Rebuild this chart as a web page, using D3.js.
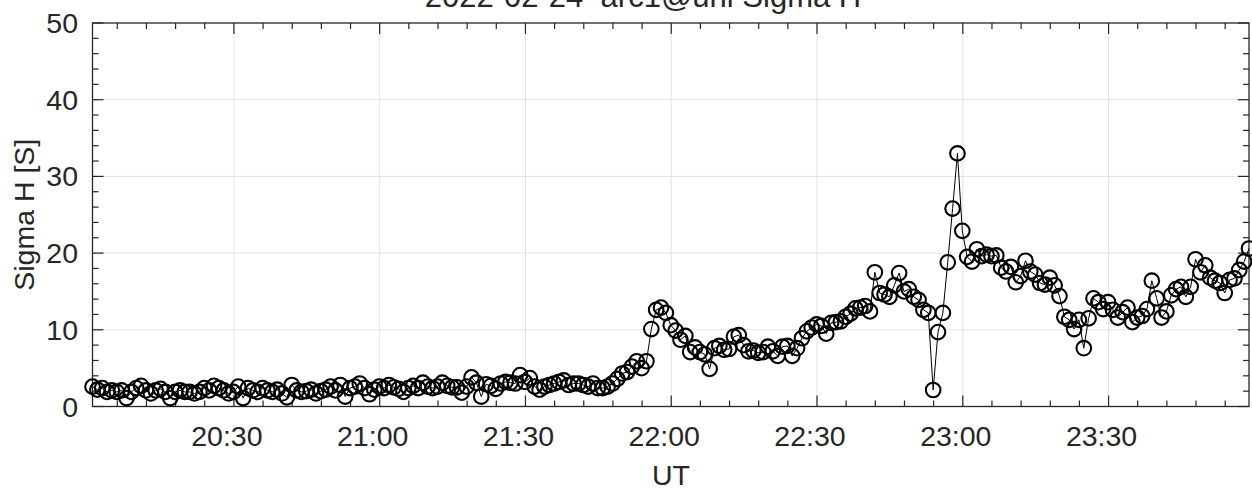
<!DOCTYPE html>
<html>
<head>
<meta charset="utf-8">
<script src="https://cdn.jsdelivr.net/npm/d3@7"></script>
<style>
  html, body { margin: 0; padding: 0; background: #fff; }
  svg { display: block; }
  text { font-family: "Liberation Sans", Arial, Helvetica, sans-serif; fill: #262626; }
</style>
</head>
<body>
<svg id="chart" width="1252" height="491"></svg>
<script>
// ---- data ----
const titleText = "2022-02-24  arc1@uni Sigma H";
const xLabel = "UT";
const yLabel = "Sigma H [S]";
const startTime = "2022-02-24T20:00:54Z";   // first sample, 1-minute cadence
const sampleMinutes = 1;
const sigmaH = [
  2.6, 2.2, 2.4, 1.9, 2.1, 1.9, 2.1, 1.1, 1.9, 2.4,
  2.7, 2.1, 1.7, 2.1, 2.3, 1.9, 1.1, 1.9, 2.1, 1.9,
  1.9, 1.7, 1.9, 2.4, 2.1, 2.7, 2.4, 2.1, 1.7, 1.9,
  2.6, 1.1, 2.4, 2.1, 1.9, 2.4, 2.1, 1.9, 2.2, 1.7,
  1.2, 2.8, 2.1, 1.9, 2.0, 2.2, 1.7, 2.0, 2.2, 2.6,
  2.1, 2.8, 1.3, 2.4, 2.6, 3.0, 2.4, 1.6, 2.2, 2.6,
  2.4, 2.8, 2.5, 2.3, 1.9, 2.4, 2.7, 2.4, 3.1, 2.6,
  2.4, 2.6, 3.1, 2.7, 2.5, 2.5, 1.8, 2.6, 3.8, 3.1,
  1.3, 2.9, 2.7, 2.3, 3.0, 3.2, 3.1, 3.0, 4.1, 3.2,
  3.7, 2.6, 2.2, 2.6, 2.8, 3.0, 3.2, 3.4, 2.8, 3.0,
  3.0, 2.8, 2.6, 3.0, 2.4, 2.4, 2.6, 3.0, 3.6, 4.3,
  4.5, 5.2, 5.9, 5.0, 5.9, 10.1, 12.6, 12.9, 12.2, 10.6,
  9.9, 8.7, 9.2, 7.1, 7.7, 7.1, 6.8, 4.9, 7.6, 7.9,
  7.4, 7.5, 9.1, 9.3, 8.0, 7.2, 7.3, 7.0, 7.1, 7.8,
  7.2, 6.6, 7.8, 7.9, 6.6, 7.6, 8.9, 9.8, 10.3, 10.7,
  10.5, 9.5, 10.9, 11.0, 11.1, 11.7, 12.1, 12.8, 12.9, 13.1,
  12.4, 17.5, 14.8, 14.6, 14.3, 15.8, 17.4, 15.0, 15.3, 14.3,
  13.9, 12.6, 12.2, 2.15, 9.7, 12.2, 18.8, 25.8, 33.0, 22.9,
  19.5, 18.9, 20.5, 19.6, 19.8, 19.6, 19.7, 18.1, 17.6, 18.2,
  16.2, 17.0, 19.0, 17.6, 17.2, 16.1, 15.9, 16.8, 15.8, 14.4,
  11.7, 11.3, 10.1, 11.3, 7.6, 11.5, 14.1, 13.6, 12.7, 13.6,
  12.6, 11.6, 12.3, 12.9, 11.0, 11.6, 11.8, 12.7, 16.4, 14.1,
  11.6, 12.4, 14.5, 15.3, 15.6, 14.3, 15.6, 19.2, 17.5, 18.4,
  16.8, 16.4, 16.1, 14.8, 16.5, 16.7, 17.8, 18.9, 20.6
];
const yTicks = [0, 10, 20, 30, 40, 50];
const xTickLabels = ["20:30", "21:00", "21:30", "22:00", "22:30", "23:00", "23:30"];

// ---- layout ----
const W = 1252, H = 491;
const m = { left: 92.5, right: 1249, top: 23, bottom: 406.5 };
const ink = "#262626";
const tickFont = 28.5;

const t0 = new Date(startTime);
const times = sigmaH.map((_, i) => new Date(t0.getTime() + i * sampleMinutes * 60000));
const data = sigmaH.map((v, i) => ({ t: times[i], v }));

const x = d3.scaleUtc().domain([times[0], times[times.length - 1]]).range([m.left, m.right]);
const y = d3.scaleLinear().domain([0, 50]).range([m.bottom, m.top]);

const svg = d3.select("#chart");

const day = "2022-02-24T";
const xMajor = xTickLabels.map(s => new Date(day + s + ":00Z"));
const xMinor = d3.utcMinute.every(6).range(x.domain()[0], x.domain()[1]);
const yMinor = d3.range(0, 50.001, 2);

// grid
const grid = svg.append("g").attr("stroke", "#e3e3e3").attr("stroke-width", 1);
grid.selectAll("line.gx").data(xMajor).join("line")
  .attr("x1", d => x(d)).attr("x2", d => x(d)).attr("y1", m.top).attr("y2", m.bottom);
grid.selectAll("line.gy").data(yTicks.filter(d => d > 0 && d < 50)).join("line")
  .attr("x1", m.left).attr("x2", m.right).attr("y1", d => y(d)).attr("y2", d => y(d));

// ticks (inward, all four sides)
const tk = svg.append("g").attr("stroke", ink).attr("stroke-width", 1.2);
const majL = 11, minL = 6;
[[m.bottom, -1], [m.top, 1]].forEach(([yy, dir]) => {
  tk.append("g").selectAll("line").data(xMinor).join("line")
    .attr("x1", d => x(d)).attr("x2", d => x(d))
    .attr("y1", yy).attr("y2", d => yy + dir * (xMajor.some(mj => +mj === +d) ? majL : minL));
});
[[m.left, 1], [m.right, -1]].forEach(([xx, dir]) => {
  tk.append("g").selectAll("line").data(yMinor).join("line")
    .attr("y1", d => y(d)).attr("y2", d => y(d))
    .attr("x1", xx).attr("x2", d => xx + dir * (d % 10 === 0 ? majL : minL));
});

// axis box
svg.append("rect")
  .attr("x", m.left).attr("y", m.top)
  .attr("width", m.right - m.left).attr("height", m.bottom - m.top)
  .attr("fill", "none").attr("stroke", ink).attr("stroke-width", 1.3);

// tick labels
svg.append("g").selectAll("text").data(yTicks).join("text")
  .attr("x", 78).attr("y", d => y(d) + 10)
  .attr("text-anchor", "end").attr("font-size", tickFont)
  .text(d => d);
svg.append("g").selectAll("text").data(xMajor).join("text")
  .attr("x", d => x(d) - 7).attr("y", 446)
  .attr("text-anchor", "middle").attr("font-size", tickFont)
  .text((d, i) => xTickLabels[i]);

// labels
svg.append("text").attr("x", 671).attr("y", 485)
  .attr("text-anchor", "middle").attr("font-size", tickFont).text(xLabel);
svg.append("text")
  .attr("transform", `translate(34,${(m.top + m.bottom) / 2}) rotate(-90)`)
  .attr("text-anchor", "middle").attr("font-size", tickFont).text(yLabel);
svg.append("text").attr("x", 643).attr("y", 7)
  .attr("text-anchor", "middle").attr("font-size", 31)
  .attr("xml:space", "preserve").style("white-space", "pre").text(titleText);

// line + markers
const line = d3.line().x(d => x(d.t)).y(d => y(d.v));
svg.append("path").datum(data)
  .attr("d", line).attr("fill", "none").attr("stroke", "#000").attr("stroke-width", 1);
svg.append("g").selectAll("circle").data(data).join("circle")
  .attr("cx", d => x(d.t)).attr("cy", d => y(d.v)).attr("r", 7.3)
  .attr("fill", "none").attr("stroke", "#000").attr("stroke-width", 2.1);
</script>
</body>
</html>
